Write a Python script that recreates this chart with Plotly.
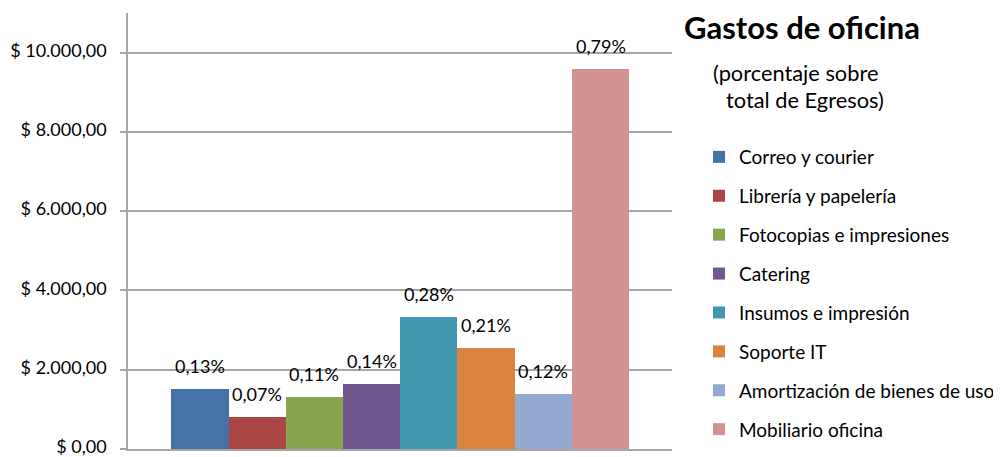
import plotly.graph_objects as go

categories = ["Correo y courier", "Librería y papelería", "Fotocopias e impresiones",
              "Catering", "Insumos e impresión", "Soporte IT",
              "Amortización de bienes de uso", "Mobiliario oficina"]
values = [1513, 815, 1311, 1647, 3337, 2555, 1377, 9584]
pct_labels = ["0,13%", "0,07%", "0,11%", "0,14%", "0,28%", "0,21%", "0,12%", "0,79%"]
colors = ["#4572A7", "#AA4643", "#89A54E", "#71588F", "#4198AF", "#DB843D", "#93A9CF", "#D19392"]
tick_vals = [0, 2000, 4000, 6000, 8000, 10000]
tick_text = ["$ 0,00", "$ 2.000,00", "$ 4.000,00", "$ 6.000,00", "$ 8.000,00", "$ 10.000,00"]

FONT = "Lato"
AX = "#a6a6a6"
OFF = 8  # page body margin
W, H = 1001 - OFF, 457 - OFF
# plot area in screen pixels
PL, PR, PT, PB = 128, 672, 13, 449
PW, PH = PR - PL, PB - PT

def px(x):
    return (x - PL) / PW

def py(y):
    return (PB - y) / PH

fig = go.Figure()
for i, (c, v, col) in enumerate(zip(categories, values, colors)):
    fig.add_trace(go.Bar(x=[c], y=[v], name=c, marker=dict(color=col, line=dict(width=0)),
                         legendgroup=f"g{i}"))
    fig.add_annotation(x=c, y=v, text=pct_labels[i], showarrow=False, yanchor="bottom",
                       yshift=10, font=dict(family=FONT, size=18, color="black"))

fig.add_annotation(xref="paper", yref="paper", x=px(802), y=py(27),
                   text="<b>Gastos de oficina</b>", showarrow=False, xanchor="center", yanchor="middle",
                   font=dict(family=FONT, size=31, color="black"))
fig.add_annotation(xref="paper", yref="paper", x=px(711), y=py(73),
                   text="(porcentaje sobre", showarrow=False, xanchor="left", yanchor="middle",
                   font=dict(family=FONT, size=21.8, color="black"))
fig.add_annotation(xref="paper", yref="paper", x=px(724), y=py(99),
                   text="total de Egresos)", showarrow=False, xanchor="left", yanchor="middle",
                   font=dict(family=FONT, size=21.8, color="black"))

fig.update_layout(
    width=W, height=H,
    margin=dict(l=PL - OFF, r=1001 - PR, t=PT - OFF, b=457 - PB, pad=0, autoexpand=False),
    paper_bgcolor="white", plot_bgcolor="white",
    barmode="overlay", bargap=0,
    font=dict(family=FONT, size=18, color="black"),
    showlegend=True,
    legend=dict(x=px(699), y=py(138), xanchor="left", yanchor="top",
                traceorder="grouped", tracegroupgap=11.2, font=dict(family=FONT, size=19, color="black"),
                bgcolor="rgba(0,0,0,0)"),
    xaxis=dict(range=[-1.26, 8.25], showticklabels=False, ticks="", showgrid=False,
               showline=True, linecolor=AX, linewidth=1.5, zeroline=False, fixedrange=True),
    yaxis=dict(range=[0, 11000], tickvals=tick_vals, ticktext=tick_text, showgrid=True,
               gridcolor=AX, gridwidth=1.5, showline=True, linecolor=AX, linewidth=1.5,
               ticks="outside", ticklen=6, tickcolor=AX, tickwidth=1.5, zeroline=False,
               ticklabelstandoff=10, ticklabeloverflow="allow", ticklabelshift=-2,
               tickfont=dict(family=FONT, size=18, color="black")),
)

fig.write_html("out.html")
